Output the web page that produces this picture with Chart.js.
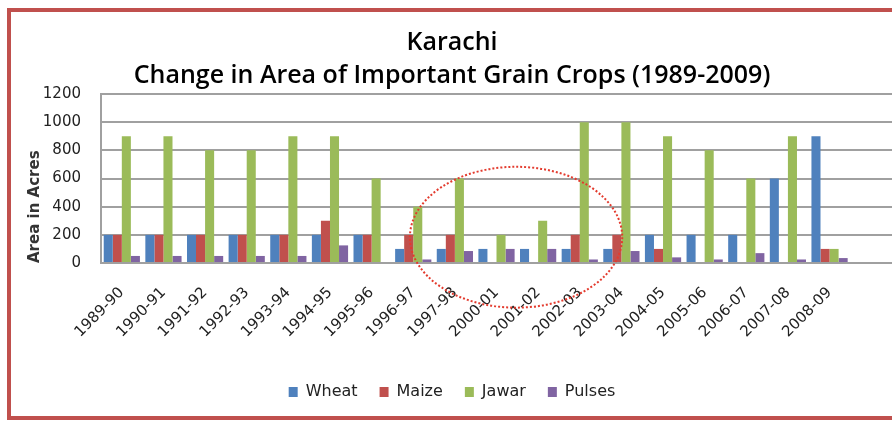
<!DOCTYPE html>
<html><head><meta charset="utf-8">
<script src="https://cdn.jsdelivr.net/npm/chart.js@4.4.1/dist/chart.umd.min.js"></script>
<style>
html,body{margin:0;padding:0;background:#fff;width:892px;height:424px;overflow:hidden;}
#wrap{position:relative;width:892px;height:424px;}
#frame{position:absolute;left:7px;top:8px;width:900px;height:412px;border:4px solid #C0504D;border-right:none;box-sizing:border-box;pointer-events:none;}
canvas{position:absolute;left:0;top:0;}
</style></head><body>
<div id="wrap"><canvas id="c" width="892" height="424"></canvas><div id="frame"></div></div>
<script>
const categories = ['1989-90','1990-91','1991-92','1992-93','1993-94','1994-95','1995-96','1996-97','1997-98','2000-01','2001-02','2002-03','2003-04','2004-05','2005-06','2006-07','2007-08','2008-09',''];
const wheat  = [200,200,200,200,200,200,200,100,100,100,100,100,100,200,200,200,600,900,null];
const maize  = [200,200,200,200,200,300,200,200,200,0,0,200,200,100,0,0,0,100,null];
const jawar  = [900,900,800,800,900,900,600,400,600,200,300,1000,1000,900,800,600,900,100,null];
const pulses = [50,50,50,50,50,125,0,25,85,100,100,25,85,40,25,70,25,35,null];
const seriesNames = ['Wheat','Maize','Jawar','Pulses'];
const seriesColors = ['#4F81BD','#C0504D','#9BBB59','#8064A2'];
const titleLines = ['Karachi','Change in Area of Important Grain Crops (1989-2009)'];
const yTitle = 'Area in Acres';
// highlighted region (in data units: category index, value)
const ellipseCenterIndex = 9.47, ellipseCenterValue = 183, ellipseHalfCats = 2.55, ellipseHalfValue = 500;

const ellipsePlugin = {
  id: 'ellipse',
  afterDatasetsDraw(chart) {
    const x = chart.scales.x, y = chart.scales.y, ctx = chart.ctx;
    const cx = x.getPixelForValue(ellipseCenterIndex);
    const rx = x.getPixelForValue(ellipseCenterIndex + ellipseHalfCats) - cx;
    const cy = y.getPixelForValue(ellipseCenterValue);
    const ry = cy - y.getPixelForValue(ellipseCenterValue + ellipseHalfValue);
    ctx.save();
    ctx.beginPath();
    ctx.ellipse(cx, cy, rx, ry, 0, 0, Math.PI * 2);
    ctx.strokeStyle = '#E33B2E';
    ctx.lineWidth = 2;
    ctx.setLineDash([2, 2]);
    ctx.stroke();
    ctx.restore();
  }
};

const data = {
  labels: categories,
  datasets: [wheat, maize, jawar, pulses].map((d, i) => ({
    label: seriesNames[i], data: d, backgroundColor: seriesColors[i], borderWidth: 0,
    categoryPercentage: 0.87, barPercentage: 1.0
  }))
};

new Chart(document.getElementById('c'), {
  type: 'bar',
  data,
  plugins: [ellipsePlugin],
  options: {
    responsive: false,
    animation: false,
    devicePixelRatio: 1,
    layout: { padding: { left: 12, right: 0, top: 26, bottom: 14 } },
    plugins: {
      title: {
        display: true, text: titleLines, color: '#000',
        font: { family: 'Open Sans', size: 25, weight: '600', lineHeight: 1.32 },
        padding: { top: 0, bottom: 2 }
      },
      legend: {
        position: 'bottom',
        labels: { color: '#222', font: { family: 'DejaVu Sans', size: 16 }, boxWidth: 9, boxHeight: 10, padding: 22 }
      },
      tooltip: { enabled: false }
    },
    scales: {
      x: {
        grid: { display: false, drawTicks: false },
        border: { display: true, color: '#a0a0a0', width: 2 },
        ticks: { color: '#222', font: { family: 'DejaVu Sans', size: 15 }, minRotation: 45, maxRotation: 45, padding: 21, autoSkip: false },
        afterFit(s) { s.height = 99; s.paddingRight = 0; }
      },
      y: {
        min: 0, max: 1200,
        grid: { color: '#a0a0a0', lineWidth: 2, drawTicks: false },
        border: { display: true, color: '#a0a0a0', width: 2 },
        ticks: { stepSize: 200, color: '#222', font: { family: 'DejaVu Sans', size: 15 }, padding: 20, format: { useGrouping: false } },
        title: { display: true, text: yTitle, align: 'start', color: '#333', font: { family: 'DejaVu Sans', size: 15, weight: 'bold' }, padding: { top: 14, bottom: 0 } },
        afterFit(s) { s.width = 89; }
      }
    }
  }
});
</script>
</body></html>
